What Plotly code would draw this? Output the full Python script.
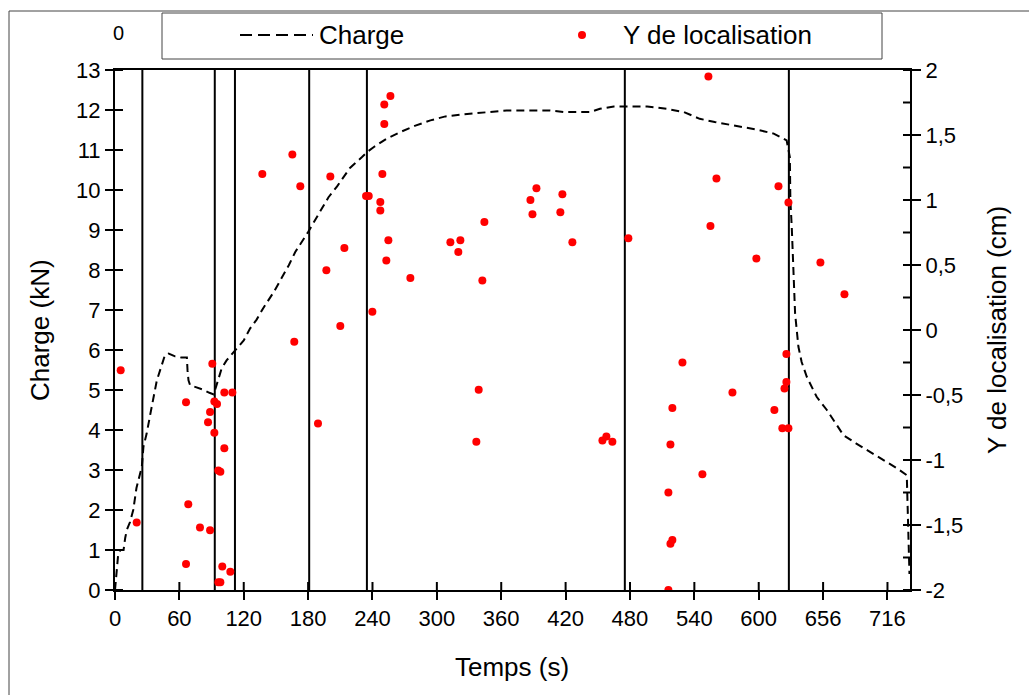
import plotly.graph_objects as go

# Load curve: time (s) and charge (kN)
time_s = [0, 1, 3, 5, 8, 9.5, 11, 14, 17, 20, 25, 26.5, 29.5, 34, 36, 39, 42, 46.5, 50,
          56, 62, 67, 67.6, 68.5, 70, 76, 82, 88, 92, 96, 99.4, 104, 112, 120, 126, 132,
          138, 148, 162, 168, 180, 191, 199, 207, 219, 230, 235, 241, 253, 266, 280, 294,
          308, 325, 350, 365, 387, 405, 418, 443, 452, 465, 496, 514, 530, 545, 559, 583,
          598, 614, 626, 629, 629.5, 630.8, 632.3, 633.9, 637, 640, 644.8, 654, 663.5,
          671, 679, 691, 704, 716, 729, 738, 740.5]
charge_kN = [0, 0.3, 0.9, 1.0, 1.0, 1.3, 1.5, 1.7, 2.0, 2.55, 3.08, 3.58, 3.91, 4.55, 4.87,
             5.24, 5.49, 5.87, 5.91, 5.84, 5.81, 5.81, 5.49, 5.24, 5.12, 5.06, 5.01, 4.93,
             4.89, 5.24, 5.54, 5.74, 5.99, 6.24, 6.54, 6.76, 7.04, 7.45, 8.12, 8.45, 8.95,
             9.45, 9.82, 10.09, 10.55, 10.82, 10.95, 11.07, 11.28, 11.45, 11.61, 11.74,
             11.84, 11.89, 11.96, 11.99, 11.99, 11.99, 11.95, 11.95, 12.03, 12.09, 12.09,
             12.03, 11.95, 11.78, 11.70, 11.59, 11.51, 11.41, 11.24, 10.82, 9.74, 9.07,
             8.07, 6.91, 6.08, 5.7, 5.33, 4.83, 4.50, 4.20, 3.87, 3.66, 3.45, 3.25, 3.04,
             2.87, 0.4]

# Localisation events: time (s) and Y position (cm)
loc_time_s = [5.3, 20.2, 66.2, 68.3, 66.2, 79.2, 88.6, 90.7, 92.6, 95.1, 88.6, 86.7, 92.6,
              101.9, 96.3, 98.2, 101.9, 109.4, 100, 107.5, 96.3, 98.2,
              137.3, 165.3, 172.7, 200.7, 213.8, 197, 210, 167.1, 189.2,
              256.7, 251, 251, 249.2, 234, 236.5, 247.3, 247.3, 254.8, 252.9, 275.3, 239.9,
              312.6, 321.9, 320, 344.3, 342.4, 387.2, 392.8, 389.1, 417, 415.1, 426.3, 478.5,
              339, 336.8, 454.3, 458, 463.6,
              560.6, 618.4, 627.7, 555, 597.8, 657.5, 679.9, 625.8, 528.9, 625.8, 624,
              575.5, 519.5, 614.6, 622, 627.7, 517.7, 547.5, 515.8, 519.5, 517.7, 515.8,
              553.1]
loc_y_cm = [-0.31, -1.48, -0.555, -1.34, -1.80, -1.52, -1.54, -0.26, -0.55, -0.57, -0.63,
            -0.71, -0.79, -0.91, -1.08, -1.09, -0.48, -0.48, -1.82, -1.86, -1.94, -1.94,
            1.20, 1.35, 1.105, 1.18, 0.63, 0.46, 0.03, -0.09, -0.72,
            1.80, 1.735, 1.585, 1.20, 1.03, 1.03, 0.985, 0.92, 0.69, 0.535, 0.40, 0.14,
            0.675, 0.69, 0.60, 0.83, 0.38, 1.0, 1.09, 0.89, 1.045, 0.905, 0.675, 0.705,
            -0.46, -0.86, -0.85, -0.82, -0.86,
            1.165, 1.105, 0.98, 0.80, 0.55, 0.52, 0.275, -0.185, -0.25, -0.40, -0.45,
            -0.48, -0.60, -0.615, -0.755, -0.755, -0.88, -1.11, -1.25, -1.615, -1.645, -2.0,
            1.95]

# Phase boundaries (s)
phase_times_s = [25.5, 93, 111.8, 181, 234.8, 475.2, 628.1]

x_tick_vals = [0, 60, 120, 180, 240, 300, 360, 420, 480, 540, 600, 660, 720]
x_tick_text = ["0", "60", "120", "180", "240", "300", "360", "420", "480", "540", "600",
               "656", "716"]
y_tick_vals = [0, 1, 2, 3, 4, 5, 6, 7, 8, 9, 10, 11, 12, 13]
y2_tick_vals = [2, 1.5, 1, 0.5, 0, -0.5, -1, -1.5, -2]
y2_tick_text = ["2", "1,5", "1", "0,5", "0", "-0,5", "-1", "-1,5", "-2"]
y2_minor_vals = [1.75, 1.25, 0.75, 0.25, -0.25, -0.75, -1.25, -1.75]

FONT = "Liberation Sans, Arial, sans-serif"
X_RANGE = [0, 741]
PLOT_W, PLOT_H = 795.0, 520.0

fig = go.Figure()

fig.add_trace(go.Scatter(
    x=time_s, y=charge_kN, mode="lines", name="Charge",
    line=dict(color="black", width=2, dash="8px,5px"),
    xaxis="x", yaxis="y", showlegend=False,
))
fig.add_trace(go.Scatter(
    x=loc_time_s, y=loc_y_cm, mode="markers", name="Y de localisation",
    marker=dict(color="#ff0000", size=8, line=dict(width=0)),
    xaxis="x", yaxis="y2", showlegend=False,
))

shapes = []
for t in phase_times_s:
    shapes.append(dict(type="line", xref="x", yref="paper", x0=t, x1=t, y0=0, y1=1,
                       line=dict(color="black", width=2), layer="below"))

# inner halves of the crossing tick marks
tick_line = dict(color="black", width=2)
for v in x_tick_vals:
    shapes.append(dict(type="line", xref="x", yref="paper", x0=v, x1=v,
                       y0=0, y1=8 / PLOT_H, line=tick_line))
for v in y_tick_vals:
    shapes.append(dict(type="line", xref="paper", yref="y", x0=0, x1=8 / PLOT_W,
                       y0=v, y1=v, line=tick_line))
for v in y2_tick_vals + y2_minor_vals:
    shapes.append(dict(type="line", xref="paper", yref="y2", x0=1 - 7 / PLOT_W, x1=1,
                       y0=v, y1=v, line=tick_line))

# paper-coordinate helpers for the plot area at (115, 70)
def px(xp):
    return (xp - 115) / PLOT_W

def py(yp):
    return (590 - yp) / PLOT_H

# outer frame
shapes.append(dict(type="rect", xref="paper", yref="paper",
                   x0=px(9), x1=px(1040), y0=py(705), y1=py(11),
                   line=dict(color="#444444", width=1)))
# legend box
shapes.append(dict(type="rect", xref="paper", yref="paper",
                   x0=px(162), x1=px(882), y0=py(59), y1=py(13),
                   line=dict(color="#444444", width=1), fillcolor="white"))
shapes.append(dict(type="line", xref="paper", yref="paper",
                   x0=px(240), x1=px(313), y0=py(35), y1=py(35),
                   line=dict(color="black", width=2, dash="12px,6px")))
shapes.append(dict(type="circle", xref="paper", yref="paper",
                   x0=px(578), x1=px(586), y0=py(39), y1=py(31),
                   fillcolor="#ff0000", line=dict(width=0)))

TITLE_SIZE = 26
annotations = [
    dict(text="Charge", xref="paper", yref="paper", x=px(317), y=py(35),
         xanchor="left", yanchor="middle", showarrow=False,
         font=dict(family=FONT, size=TITLE_SIZE, color="black")),
    dict(text="Y de localisation", xref="paper", yref="paper", x=px(621), y=py(35),
         xanchor="left", yanchor="middle", showarrow=False,
         font=dict(family=FONT, size=TITLE_SIZE, color="black")),
    dict(text="0", xref="paper", yref="paper", x=px(118), y=py(33),
         xanchor="center", yanchor="middle", showarrow=False,
         font=dict(family=FONT, size=20, color="black")),
    dict(text="Temps (s)", xref="paper", yref="paper", x=px(512), y=py(667),
         xanchor="center", yanchor="middle", showarrow=False,
         font=dict(family=FONT, size=TITLE_SIZE, color="black")),
    dict(text="Charge (kN)", xref="paper", yref="paper", x=px(40), y=py(330),
         xanchor="center", yanchor="middle", showarrow=False, textangle=-90,
         font=dict(family=FONT, size=TITLE_SIZE, color="black")),
    dict(text="Y de localisation (cm)", xref="paper", yref="paper", x=px(997), y=py(330),
         xanchor="center", yanchor="middle", showarrow=False, textangle=-90,
         font=dict(family=FONT, size=TITLE_SIZE, color="black")),
]

tickfont = dict(family=FONT, size=22, color="black")

fig.update_layout(
    width=1029, height=695,
    margin=dict(l=115, r=119, t=70, b=105, pad=0),
    paper_bgcolor="white", plot_bgcolor="white",
    font=dict(family=FONT, size=22, color="black"),
    shapes=shapes, annotations=annotations,
    xaxis=dict(range=X_RANGE, tickvals=x_tick_vals, ticktext=x_tick_text,
               ticks="outside", ticklen=8, tickwidth=2, tickcolor="black",
               showline=True, linecolor="black", linewidth=2, mirror=True,
               showgrid=False, zeroline=False, tickfont=tickfont),
    yaxis=dict(range=[0, 13], tickvals=y_tick_vals,
               ticks="outside", ticklen=8, tickwidth=2, tickcolor="black",
               showline=True, linecolor="black", linewidth=2,
               showgrid=False, zeroline=False, tickfont=tickfont),
    yaxis2=dict(range=[-2, 2], overlaying="y", side="right", anchor="x",
                tickvals=y2_tick_vals, ticktext=y2_tick_text,
                ticks="outside", ticklen=9, tickwidth=2, tickcolor="black",
                showline=True, linecolor="black", linewidth=2,
                showgrid=False, zeroline=False, tickfont=tickfont),
)

fig.write_html("out.html")
